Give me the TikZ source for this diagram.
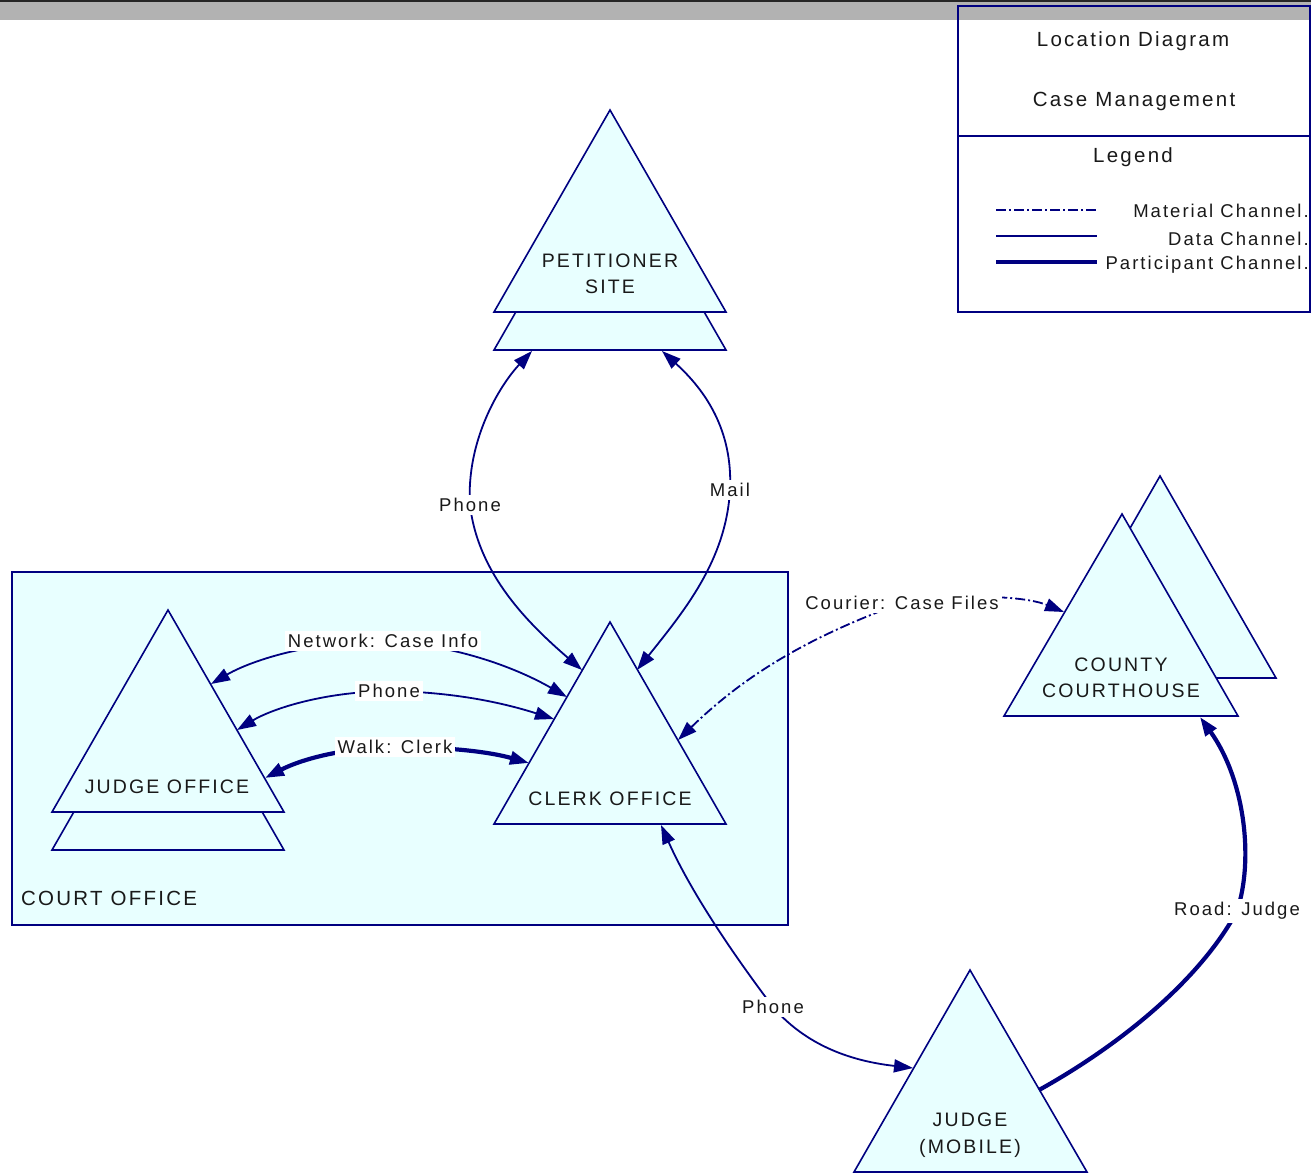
\documentclass[tikz,border=0pt]{standalone}
\usepackage{fontspec}
\newfontfamily\lblfont[LetterSpace=11]{Liberation Sans}
\usetikzlibrary{arrows.meta}
\definecolor{navyline}{RGB}{0,0,128}
\definecolor{sitefill}{RGB}{232,255,255}
\definecolor{barfill}{RGB}{178,178,178}

\begin{document}
\begin{tikzpicture}[x=1pt,y=-1pt,
    >={Triangle[length=19pt,width=13pt]},
    sitetri/.style={draw=navyline,fill=sitefill,line width=1.6pt},
    datach/.style={draw=navyline,line width=1.8pt},
    walkch/.style={draw=navyline,line width=4.2pt},
    match/.style={draw=navyline,line width=1.8pt,dash pattern=on 10pt off 3pt on 2pt off 3pt},
    sitename/.style={font=\lblfont\fontsize{19.5}{26.5}\selectfont,align=center,text=black!90,inner sep=0pt},
    chan/.style={font=\lblfont\fontsize{18.5}{22}\selectfont,fill=white,inner sep=3pt,text=black!90},
    legtxt/.style={font=\lblfont\fontsize{18.5}{22}\selectfont,text=black!90,inner sep=0pt},
    titletxt/.style={font=\lblfont\fontsize{20.5}{24}\selectfont,text=black!90,inner sep=0pt}]
    \useasboundingbox (0,0) rectangle (1311,1175);

    % 1. Thanh tiêu đề phía trên
    \fill[black!85] (0,0) rectangle (1311,2);
    \fill[barfill] (0,2) rectangle (1311,20);

    % 2. Khung chú giải
    \draw[navyline,line width=1.6pt] (958,6) rectangle (1310,312);
    \draw[navyline,line width=1.6pt] (958,136) -- (1310,136);
    \node[titletxt] (title) at (1133,41) {Location Diagram};
    \node[titletxt] (subtitle) at (1134,101) {Case Management};
    \node[titletxt] (legend) at (1133,157) {Legend};
    \draw[match] (996,210) -- (1097,210);
    \draw[datach] (996,236) -- (1097,236);
    \draw[walkch] (996,262) -- (1097,262);
    \node[legtxt,anchor=east] (leg-mat) at (1309,211) {Material Channel.};
    \node[legtxt,anchor=east] (leg-data) at (1309,239) {Data Channel.};
    \node[legtxt,anchor=east] (leg-part) at (1309,265) {Participant Channel.};

    % 3. Khu văn phòng tòa án
    \draw[navyline,fill=sitefill,line width=1.6pt] (12,572) rectangle (788,925);
    \node[titletxt,anchor=west] (courtoff) at (21,898) {COURT OFFICE};

    % 4. Các địa điểm (tam giác)
    % Petitioner site: hai tam giác chồng nhau
    \draw[sitetri] (610,148) -- (726,350) -- (494,350) -- cycle;
    \draw[sitetri] (610,110) -- (726,312) -- (494,312) -- cycle;
    \node[sitename] (petsite) at (610,274) {PETITIONER\\SITE};

    % Judge office
    \draw[sitetri] (168,648) -- (284,850) -- (52,850) -- cycle;
    \draw[sitetri] (168,610) -- (284,812) -- (52,812) -- cycle;
    \node[sitename] (judgeoff) at (167,787) {JUDGE OFFICE};

    % Clerk office
    \draw[sitetri] (610,622) -- (726,824) -- (494,824) -- cycle;
    \node[sitename] (clerkoff) at (610,799) {CLERK OFFICE};

    % County courthouse: tam giác sau lệch lên phải
    \draw[sitetri] (1160,476) -- (1276,678) -- (1044,678) -- cycle;
    \draw[sitetri] (1122,514) -- (1238,716) -- (1004,716) -- cycle;
    \node[sitename] (county) at (1121,678) {COUNTY\\COURTHOUSE};

    % Judge (mobile)
    \draw[sitetri] (970,970) -- (1087,1172) -- (854,1172) -- cycle;
    \node[sitename] (judgemob) at (970,1135) {JUDGE\\(MOBILE)};

    % 5. Điểm đầu mút các kênh trên cạnh tam giác
    \coordinate (pet-sw) at (532,351);
    \coordinate (pet-se) at (662,351);
    \coordinate (clerk-w1) at (582,670);
    \coordinate (clerk-e1) at (637,670);
    \coordinate (clerk-w2) at (567,697);
    \coordinate (clerk-w3) at (554,719);
    \coordinate (clerk-w4) at (529,763);
    \coordinate (clerk-e2) at (678,740);
    \coordinate (clerk-s) at (661,825);
    \coordinate (jo-e1) at (211,684);
    \coordinate (jo-e2) at (237,730);
    \coordinate (jo-e3) at (265,778);
    \coordinate (cc-w) at (1064,612);
    \coordinate (cc-s) at (1200,717);
    \coordinate (mob-w) at (913,1068);
    \coordinate (mob-e) at (1039,1090);

    % vị trí nhãn kênh
    \coordinate (phone-pet) at (470,505);
    \coordinate (mail) at (730,490);
    \coordinate (net) at (383,641);
    \coordinate (phone-jo) at (389,691);
    \coordinate (walk) at (395,747);
    \coordinate (courier) at (902,603);
    \coordinate (phone-mob) at (773,1007);
    \coordinate (road) at (1237,911);

    % 6. Các kênh
    \draw[datach,<->] (clerk-w1) .. controls (530,625) and (478,575) .. (phone-pet)
        .. controls (466,440) and (500,385) .. (pet-sw);
    \draw[datach,<->] (clerk-e1) .. controls (685,610) and (726,560) .. (mail)
        .. controls (733,430) and (705,390) .. (pet-se);
    \draw[datach,<->] (jo-e1) .. controls (245,664) and (300,642) .. (net)
        .. controls (460,645) and (520,670) .. (clerk-w2);
    \draw[datach,<->] (jo-e2) .. controls (270,710) and (320,692) .. (phone-jo)
        .. controls (460,692) and (510,705) .. (clerk-w3);
    \draw[walkch,<->] (jo-e3) .. controls (300,760) and (340,748) .. (walk)
        .. controls (450,747) and (490,752) .. (clerk-w4);
    \draw[match,<->] (clerk-e2) .. controls (740,680) and (800,640) .. (courier)
        .. controls (980,592) and (1030,598) .. (cc-w);
    \draw[datach,<->] (clerk-s) .. controls (690,890) and (730,950) .. (phone-mob)
        .. controls (810,1050) and (860,1062) .. (mob-w);
    \draw[walkch,->] (mob-e) .. controls (1120,1045) and (1200,980) .. (road)
        .. controls (1254,860) and (1245,780) .. (cc-s);

    % 7. Nhãn các kênh
    \node[chan] (phone-pet-lbl) at (phone-pet) {Phone};
    \node[chan] (mail-lbl) at (mail) {Mail};
    \node[chan] (net-lbl) at (net) {Network: Case Info};
    \node[chan] (phone-jo-lbl) at (phone-jo) {Phone};
    \node[chan] (walk-lbl) at (walk) {Walk: Clerk};
    \node[chan] (courier-lbl) at (courier) {Courier: Case Files};
    \node[chan] (phone-mob-lbl) at (phone-mob) {Phone};
    \node[chan] (road-lbl) at (road) {Road: Judge};

\end{tikzpicture}
\end{document}
